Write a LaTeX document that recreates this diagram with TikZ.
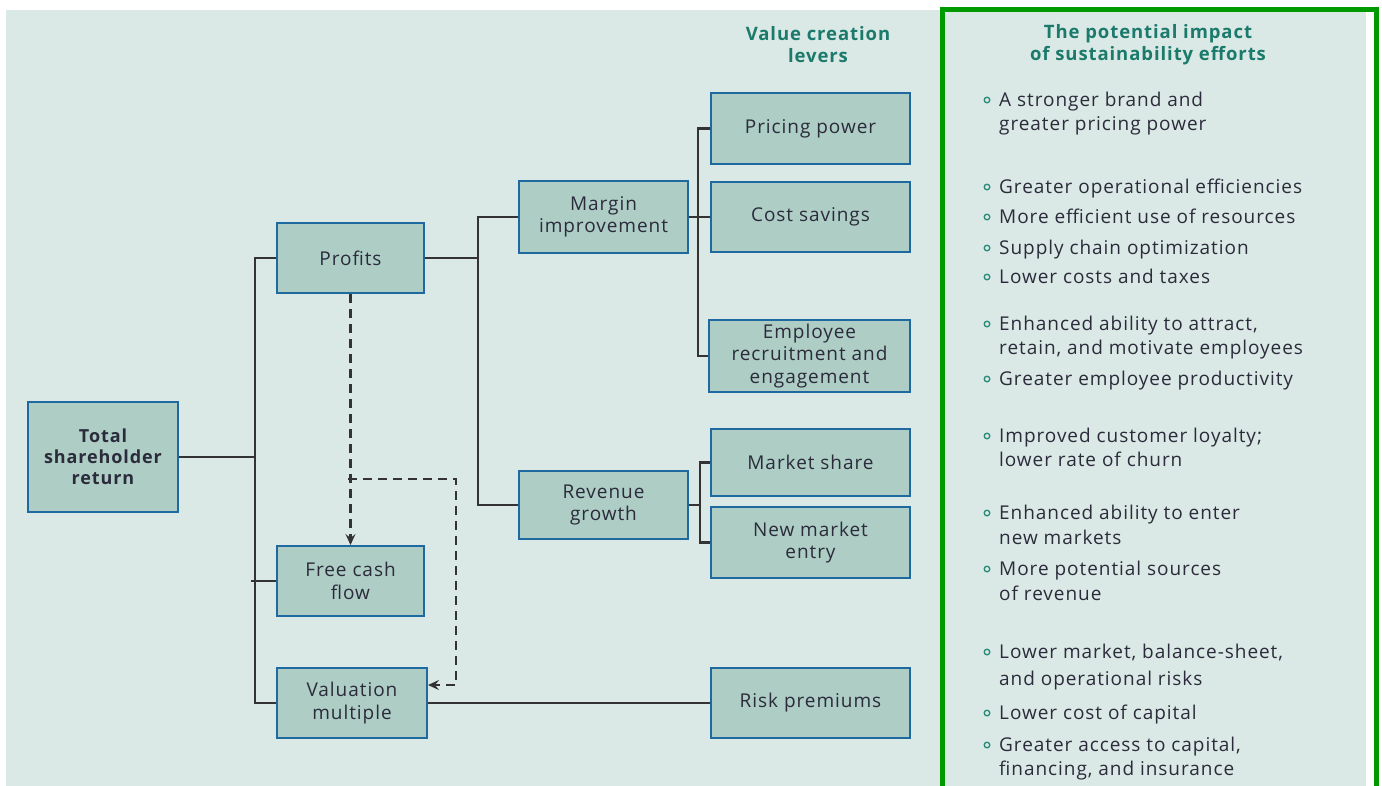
\documentclass[tikz,border=0pt]{standalone}
\usepackage{fontspec}
\setmainfont{Open Sans}[LetterSpace=5]
\usetikzlibrary{arrows.meta}
\definecolor{bg}{HTML}{DAE9E5}
\definecolor{boxfill}{HTML}{ADCDC5}
\definecolor{boxdraw}{HTML}{1E6AA0}
\definecolor{linec}{HTML}{333333}
\definecolor{txt}{HTML}{2B2B3B}
\definecolor{headc}{HTML}{1B7A6B}
\definecolor{bulc}{HTML}{2A8A7A}
\definecolor{frame}{HTML}{009A00}
\tikzset{
  box/.style={draw=boxdraw, line width=2pt, fill=boxfill, align=center,
    font=\fontsize{19}{22.5}\selectfont, text=txt, inner sep=0pt},
  conn/.style={draw=linec, line width=2.2pt},
  dashconn/.style={draw=linec, line width=2.2pt, dash pattern=on 9pt off 6pt,
    -{Stealth[length=11pt,width=10pt,inset=4pt]}},
  head/.style={align=center, text=headc, font=\bfseries\fontsize{18.5}{22}\selectfont},
  item/.style={anchor=base west, text=txt, inner sep=0pt, font=\fontsize{19}{22}\selectfont},
}
\begin{document}
\begin{tikzpicture}[x=1pt,y=-1pt]
\useasboundingbox (0,0) rectangle (1382,785);
\fill[bg] (6,10) rectangle (1366,790);
\draw[frame, line width=5pt] (942,795) -- (942,9) -- (1376.5,9) -- (1376.5,795);

% nodes
\node[box, minimum width=150pt, minimum height=110pt, font=\bfseries\fontsize{18}{21}\selectfont] (tsr) at (103,457) {Total\\shareholder\\return};
\node[box, minimum width=147pt, minimum height=70pt] (prof) at (350.5,258) {Profits};
\node[box, minimum width=147pt, minimum height=70pt] (fcf) at (350.5,581) {Free cash\\flow};
\node[box, minimum width=150pt, minimum height=70pt] (val) at (352,703) {Valuation\\multiple};
\node[box, minimum width=169pt, minimum height=72pt] (marg) at (603.5,217) {Margin\\improvement};
\node[box, minimum width=169pt, minimum height=68pt] (rev) at (603.5,505) {Revenue\\growth};
\node[box, minimum width=199pt, minimum height=71pt] (price) at (810.5,128.5) {Pricing power};
\node[box, minimum width=199pt, minimum height=70pt] (cost) at (810.5,217) {Cost savings};
\node[box, minimum width=201pt, minimum height=72pt] (emp) at (809.5,356) {Employee\\recruitment and\\engagement};
\node[box, minimum width=199pt, minimum height=67pt] (mkt) at (810.5,462.5) {Market share};
\node[box, minimum width=199pt, minimum height=71pt] (nme) at (810.5,542.5) {New market\\entry};
\node[box, minimum width=199pt, minimum height=70pt] (risk) at (810.5,703) {Risk premiums};

% junctions
\coordinate (j1) at (255,457);
\coordinate (j2) at (478,258);
\coordinate (j3) at (698,217);
\coordinate (j4) at (700,505);
\coordinate (d1) at (348,479);
\coordinate (d2) at (456,479);
\coordinate (d3) at (456,685);

% connectors
\draw[conn] (tsr.east) -- (j1);
\draw[conn] (prof.west) -| (j1) |- (val.west);
\draw[conn] ([xshift=-4pt]fcf.west -| j1) -- (fcf.west);
\draw[conn] (prof.east) -- (j2);
\draw[conn] (marg.west) -| (j2) |- (rev.west);
\draw[conn] (marg.east) -- (cost.west);
\draw[conn] (price.west) -| (j3) |- (emp.west);
\draw[conn] (rev.east) -- (j4);
\draw[conn] (mkt.west) -| (j4) |- (nme.west);
\draw[conn] (val.east) -- (risk.west);

% dashed
\draw[dashconn] (prof.south) -- (fcf.north);
\draw[dashconn] (d1) -- (d2) -- (d3) -- (d3 -| val.east);

% headers
\node[head] (h1) at (818,45) {Value creation\\levers};
\node[head] (h2) at (1148,45) {The potential impact\\of sustainability efforts};

% bullets
\foreach \yy in {100,187,217,248,277,324,379,436,513,569,652,713,745}
  \draw[bulc, line width=1.3pt] (987,\yy) circle (2.8pt);
\foreach \yy/\txtline in {
  106/{A stronger brand and}, 130/{greater pricing power},
  193/{Greater operational efficiencies},
  223/{More efficient use of resources},
  254/{Supply chain optimization},
  283/{Lower costs and taxes},
  330/{Enhanced ability to attract,}, 354/{retain, and motivate employees},
  385/{Greater employee productivity},
  442/{Improved customer loyalty;}, 466/{lower rate of churn},
  519/{Enhanced ability to enter}, 544/{new markets},
  575/{More potential sources}, 600/{of revenue},
  658/{Lower market, balance-sheet,}, 685/{and operational risks},
  719/{Lower cost of capital},
  751/{Greater access to capital,}, 775/{financing, and insurance}}
  \node[item] at (999,\yy) {\txtline};
\end{tikzpicture}
\end{document}
